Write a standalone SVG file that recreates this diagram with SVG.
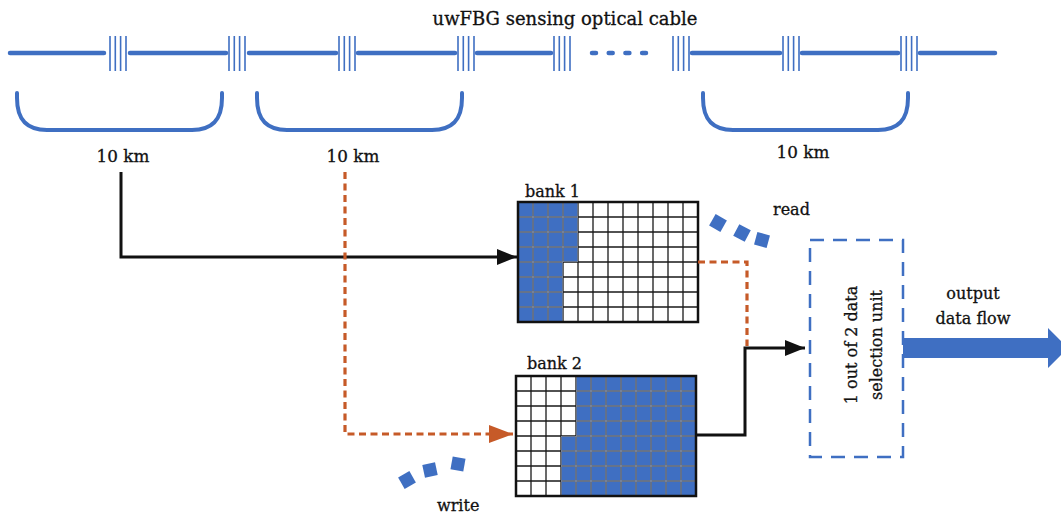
<svg xmlns="http://www.w3.org/2000/svg" width="1061" height="518" viewBox="0 0 1061 518">
<style>
.t{font-family:"DejaVu Serif","Liberation Serif",serif;font-size:16px;fill:#111;stroke:#111;stroke-width:0.3}
.cab{stroke:#3f6fc2;stroke-width:4.5;stroke-linecap:round;fill:none}
.fbg{stroke:#3f6fc2;stroke-width:1.6;fill:none}
.brk{stroke:#3f6fc2;stroke-width:4;fill:none;stroke-linecap:round}
.blk{stroke:#111;stroke-width:3;fill:none}
.org{stroke:#c65a28;stroke-width:3.2;fill:none;stroke-dasharray:7 4.5}
.sq{fill:#3f6fc2}
.grid{stroke:#1a1a1a;stroke-width:1.3;fill:none}
.gridb{stroke:#7d8aa3;stroke-width:1.4;fill:none}
.blue{fill:#3f6fc2}
</style>
<defs>
<marker id="ab" markerWidth="20" markerHeight="16" refX="20" refY="8" orient="auto" markerUnits="userSpaceOnUse"><path d="M0,0 L20,8 L0,16 Z" fill="#111"/></marker>
<marker id="ao" markerWidth="24" markerHeight="18" refX="24" refY="9" orient="auto" markerUnits="userSpaceOnUse"><path d="M0,0 L24,9 L0,18 Z" fill="#c65a28"/></marker>
<path id="gridp" d="M15,0V120M30,0V120M45,0V120M60,0V120M75,0V120M90,0V120M105,0V120M120,0V120M135,0V120M150,0V120M165,0V120M0,15H180M0,30H180M0,45H180M0,60H180M0,75H180M0,90H180M0,105H180"/>
<g id="m4"><path class="fbg" d="M0,36V71M5.3,36V71M10.6,36V71M16,36V71"/></g>
<clipPath id="c1"><path d="M0,0H60V60H45V120H0Z"/></clipPath>
<clipPath id="c2"><path d="M60,0H180V120H45V60H60Z"/></clipPath>
</defs>

<g id="cable">
<path class="cab" d="M10,53H104M130,53H226M249,53H336M358,53H455M477,53H551M692,53H780M802,53H898M920,53H995"/>
<path class="cab" d="M592,53H646" style="stroke-dasharray:4 12.7"/>
<use href="#m4" x="110"/><use href="#m4" x="229"/><use href="#m4" x="339"/><use href="#m4" x="458"/>
<use href="#m4" x="554"/><use href="#m4" x="673"/><use href="#m4" x="783"/><use href="#m4" x="901"/>
<text class="t" x="565" y="25" text-anchor="middle" style="font-size:18px">uwFBG sensing optical cable</text>
</g>

<g id="spans">
<path class="brk" d="M17,93V98C17,120 27,130 47,130H192C212,130 222,120 222,98V93"/>
<path class="brk" d="M257,93V98C257,120 267,130 287,130H432C452,130 462,120 462,98V93"/>
<path class="brk" d="M703,93V98C703,120 713,130 733,130H878C898,130 908,120 908,98V93"/>
<text class="t" x="123" y="162" text-anchor="middle" style="font-size:16.8px">10 km</text>
<text class="t" x="353" y="162" text-anchor="middle" style="font-size:16.8px">10 km</text>
<text class="t" x="803" y="158" text-anchor="middle" style="font-size:16.8px">10 km</text>
</g>

<g id="bank1" transform="translate(518,202)">
<rect width="180" height="120" fill="#fff"/>
<path class="blue" d="M0,0H60V60H45V120H0Z"/>
<use href="#gridp" class="grid"/>
<use href="#gridp" class="gridb" clip-path="url(#c1)"/>
<rect width="180" height="120" fill="none" stroke="#111" stroke-width="2.5"/>
<text class="t" x="7" y="-5">bank 1</text>
</g>

<g id="bank2" transform="translate(516,376)">
<rect width="180" height="120" fill="#fff"/>
<path class="blue" d="M60,0H180V120H45V60H60Z"/>
<use href="#gridp" class="grid"/>
<use href="#gridp" class="gridb" clip-path="url(#c2)"/>
<rect width="180" height="120" fill="none" stroke="#111" stroke-width="2.5"/>
<text class="t" x="11" y="-7">bank 2</text>
</g>

<g id="read">
<rect class="sq" x="-6.5" y="-6.5" width="13" height="13" transform="translate(718,223) rotate(30)"/>
<rect class="sq" x="-6.5" y="-6.5" width="13" height="13" transform="translate(742,233) rotate(28)"/>
<rect class="sq" x="-6.5" y="-6.5" width="13" height="13" transform="translate(762,240) rotate(15)"/>
<text class="t" x="773" y="215">read</text>
</g>

<g id="write">
<rect class="sq" x="-6.5" y="-6.5" width="13" height="13" transform="translate(407,480) rotate(-30)"/>
<rect class="sq" x="-6.5" y="-6.5" width="13" height="13" transform="translate(430,470) rotate(-12)"/>
<rect class="sq" x="-6.5" y="-6.5" width="13" height="13" transform="translate(458,464) rotate(10)"/>
<text class="t" x="437" y="511">write</text>
</g>

<g id="selector">
<rect x="810" y="240" width="93" height="217" fill="none" stroke="#3f6fc2" stroke-width="2.5" stroke-dasharray="14 9"/>
<text class="t" transform="translate(857,345) rotate(-90)" text-anchor="middle">1 out of 2 data</text>
<text class="t" transform="translate(882,345) rotate(-90)" text-anchor="middle">selection unit</text>
</g>

<g id="output">
<path d="M903,338H1048V328L1068,348L1048,368V358H903Z" fill="#3f6fc2"/>
<text class="t" x="973" y="299" text-anchor="middle">output</text>
<text class="t" x="973" y="324" text-anchor="middle">data flow</text>
</g>

<g id="connectors">
<path class="blk" d="M121,172V257H517" marker-end="url(#ab)"/>
<path class="org" d="M345,172V434H513" marker-end="url(#ao)"/>
<path class="org" d="M698,262H747V346"/>
<path class="blk" d="M697,435H745V348H805" marker-end="url(#ab)"/>
</g>
</svg>
